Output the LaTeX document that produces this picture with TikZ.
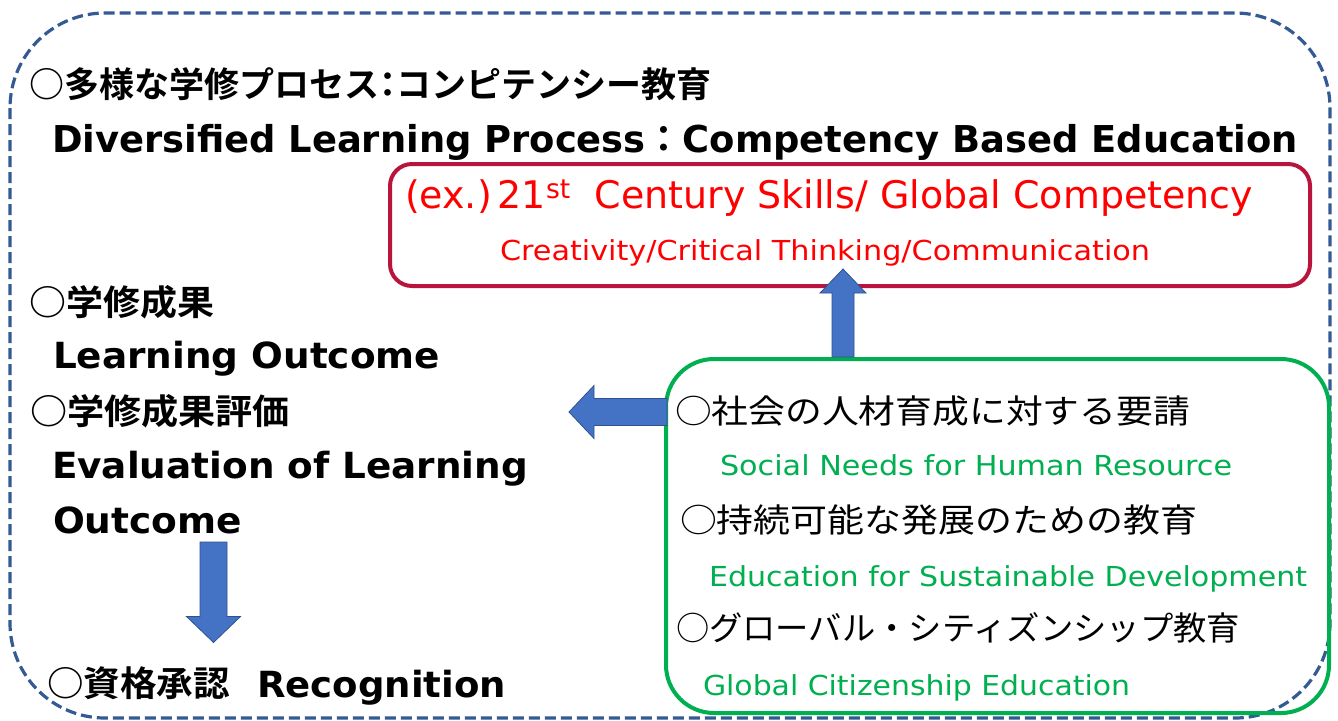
\documentclass[tikz,border=0pt]{standalone}
\usepackage{fontspec}
\usepackage{graphicx}
\setmainfont{DejaVu Sans}
\newfontfamily\jp{Noto Sans CJK JP}[BoldFont=* Bold]
\usetikzlibrary{calc}
\definecolor{dashblue}{RGB}{52,90,148}
\definecolor{boxred}{RGB}{185,20,60}
\definecolor{txtred}{RGB}{255,0,0}
\definecolor{boxgreen}{RGB}{0,176,80}
\definecolor{arrblue}{RGB}{68,114,196}
\definecolor{arrdark}{RGB}{47,82,143}
\newcommand{\fitw}[2]{\resizebox{#1}{\height}{#2}}
\newcommand{\pcolon}{{\jp\addfontfeatures{RawFeature=+palt}：}}
\tikzset{
  txt/.style={inner sep=0pt, outer sep=0pt, anchor=base west},
  jtxt/.style={inner sep=0pt, outer sep=0pt, anchor=west},
  dashframe/.style={draw=dashblue, line width=3.2pt, dash pattern=on 11pt off 5pt, rounded corners=95pt},
  redbox/.style={draw=boxred, line width=4pt, rounded corners=22pt, inner sep=0pt},
  greenbox/.style={draw=boxgreen, line width=4pt, rounded corners=48pt, inner sep=0pt},
  blockarrow/.style={fill=arrblue, draw=arrdark, line width=0.8pt, line join=miter},
}
\begin{document}
\begin{tikzpicture}[x=1pt, y=-1pt]
\useasboundingbox (0,0) rectangle (1338,720);
\fill[white] (0,0) rectangle (1338,720);
% outer dashed frame
\draw[dashframe] (10,13) rectangle (1330,718);

% boxes
\node[redbox, minimum width=920pt, minimum height=122pt] (red) at (850,225) {};
\node[greenbox, minimum width=663pt, minimum height=354pt] (grn) at (997.5,536) {};

% left column texts (bold)
\node[jtxt] (j1) at (29,84) {\fontsize{35}{40}\selectfont\jp\bfseries\fitw{683pt}{○多様な学修プロセス\pcolon コンピテンシー教育}};
\node[txt] (l2) at (52,152) {\fontsize{37}{42}\selectfont\bfseries\fitw{1246pt}{Diversified Learning Process{\jp：}Competency Based Education}};
\node[jtxt] (j2) at (30,302) {\fontsize{35}{40}\selectfont\jp\bfseries\fitw{185pt}{○学修成果}};
\node[txt] (lo) at (53,368) {\fontsize{36}{40}\selectfont\bfseries\fitw{387pt}{Learning Outcome}};
\node[jtxt] (j3) at (30,411) {\fontsize{35}{40}\selectfont\jp\bfseries\fitw{260pt}{○学修成果評価}};
\node[txt] (ev1) at (52,478) {\fontsize{36}{40}\selectfont\bfseries\fitw{476pt}{Evaluation of Learning}};
\node[txt] (ev2) at (53,533) {\fontsize{36}{40}\selectfont\bfseries\fitw{189pt}{Outcome}};
\node[jtxt] (j4) at (47,683) {\fontsize{35}{40}\selectfont\jp\bfseries\fitw{183pt}{○資格承認}};
\node[txt] (rec) at (257,697) {\fontsize{36}{40}\selectfont\bfseries\fitw{249pt}{Recognition}};

% red box texts
\node[txt, text=txtred] (r1) at (405,208) {\fontsize{38}{42}\selectfont\fitw{848pt}{(ex.)\hspace{6pt}21\textsuperscript{st}\hspace{12pt} Century Skills/ Global Competency}};
\node[txt, text=txtred] (r2) at (500,260) {\fontsize{27.5}{32}\selectfont\fitw{650pt}{Creativity/Critical Thinking/Communication}};

% green box texts
\node[jtxt] (g1) at (675,411) {\fontsize{33}{38}\selectfont\jp\fitw{515pt}{○社会の人材育成に対する要請}};
\node[txt, text=boxgreen] (g1e) at (720,475) {\fontsize{27.5}{32}\selectfont\fitw{512pt}{Social Needs for Human Resource}};
\node[jtxt] (g2) at (680,520) {\fontsize{33}{38}\selectfont\jp\fitw{517pt}{○持続可能な発展のための教育}};
\node[txt, text=boxgreen] (g2e) at (709,586) {\fontsize{27.5}{32}\selectfont\fitw{598pt}{Education for Sustainable Development}};
\node[jtxt] (g3) at (676,628) {\fontsize{33}{38}\selectfont\jp\fitw{564pt}{○グローバル・シティズンシップ教育}};
\node[txt, text=boxgreen] (g3e) at (703,695) {\fontsize{27.5}{32}\selectfont\fitw{427pt}{Global Citizenship Education}};

% arrows
\path (843,0) coordinate (ux) (0,412) coordinate (ly) (213.5,0) coordinate (dx);
\coordinate (upS) at (ux |- grn.north);
\coordinate (upT) at ($(ux |- red.south)+(0,-19)$);
\coordinate (lS) at ($(grn.west |- ly)+(3,0)$);
\coordinate (lT) at (569,412);
\coordinate (dS) at ($(dx |- ev2.base)+(0,9)$);
\coordinate (dT) at ($(dx |- j4.north)+(0,-24)$);

\draw[blockarrow] ($(upS)+(-11,0)$) -- ($(upT)+(-11,24)$) -- ($(upT)+(-23,24)$) -- (upT)
  -- ($(upT)+(23,24)$) -- ($(upT)+(11,24)$) -- ($(upS)+(11,0)$) -- cycle;
\draw[blockarrow] ($(lS)+(0,-13.5)$) -- ($(lT)+(25,-13.5)$) -- ($(lT)+(25,-26.5)$) -- (lT)
  -- ($(lT)+(25,26.5)$) -- ($(lT)+(25,13.5)$) -- ($(lS)+(0,13.5)$) -- cycle;
\draw[blockarrow] ($(dS)+(-13.5,0)$) -- ($(dT)+(-13.5,-26)$) -- ($(dT)+(-27,-26)$) -- (dT)
  -- ($(dT)+(27,-26)$) -- ($(dT)+(13.5,-26)$) -- ($(dS)+(13.5,0)$) -- cycle;
\end{tikzpicture}
\end{document}
